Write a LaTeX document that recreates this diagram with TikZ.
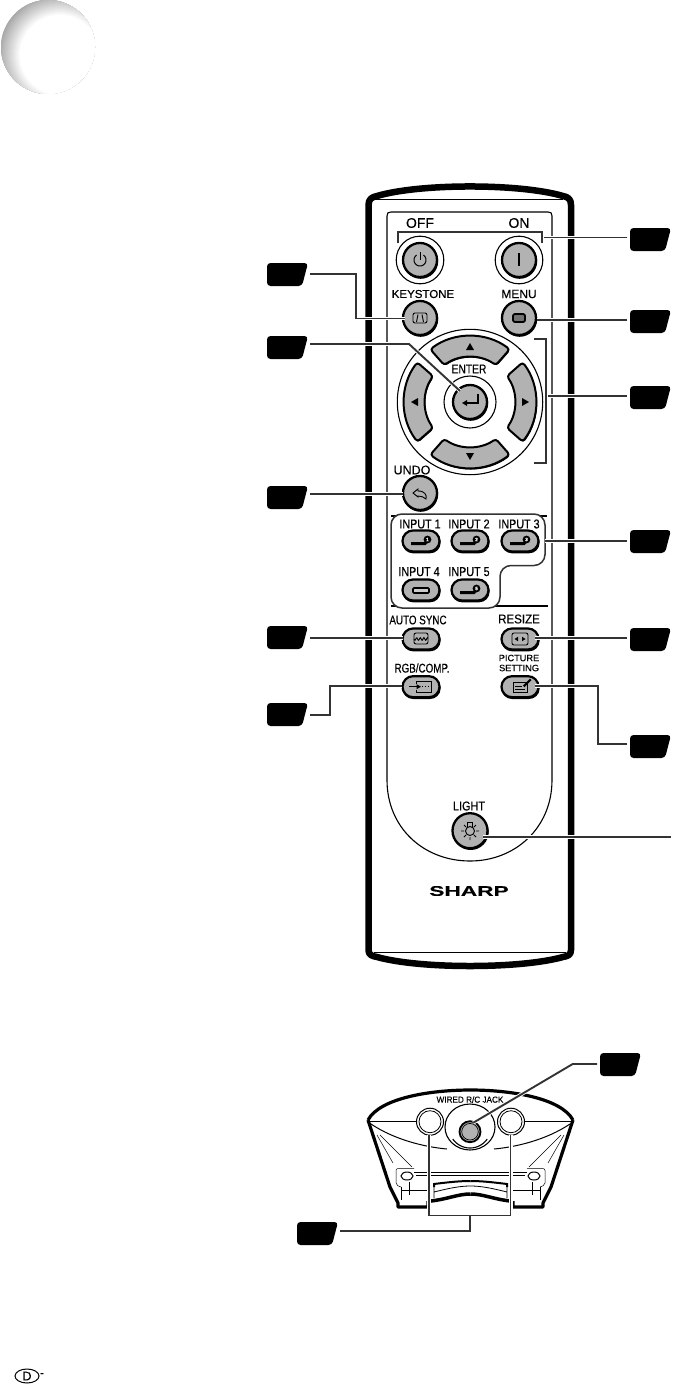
\documentclass[tikz,border=0pt]{standalone}
\usepackage{fontspec}
\usetikzlibrary{shapes.geometric}
\setmainfont{Liberation Sans}[FakeBold=0.25]
\definecolor{btn}{gray}{0.70}
\definecolor{lineg}{gray}{0.2}
\tikzset{
  tagnode/.style={rectangle,draw=none,minimum width=40pt,minimum height=1pt,inner sep=0pt,outer sep=3pt},
  conn/.style={draw=lineg,line width=1.9pt,preaction={draw=white,line width=3.6pt}},
  thin1/.style={draw=black,line width=0.8pt},
  thin2/.style={draw=black,line width=1.1pt},
  bigbtn/.style={circle,fill=btn,draw=black,line width=2.3pt,inner sep=0pt},
  pillbtn/.style={rectangle,rounded corners=10.5pt,fill=btn,draw=black,line width=2.2pt,minimum width=37pt,minimum height=21pt,inner sep=0pt},
  lbl/.style={inner sep=0pt,outer sep=0pt,text=black,align=center},
  ico/.style={draw=black,line width=0.9pt}
}
\newcommand{\tagat}[4]{% name, left x, top y, line y
  \fill[black,rounded corners=3.5pt] (#2,#3) -- (#2+41,#3) -- (#2+35,#3+23) -- (#2,#3+23) -- cycle;
  \node[tagnode] (#1) at (#2+20,#4) {};
}
\newcommand{\roundbtn}[4]{% name,x,y,r
  \fill[black] (#2+0.6,#3+1.2) circle (#4+0.6);
  \node[bigbtn,minimum size={2*#4}] (#1) at (#2,#3) {};
}
\newcommand{\pill}[3]{% name,x,y
  \fill[black,rounded corners=10.5pt] (#2-18.5,#3-9.5) rectangle (#2+19.6,#3+12.3);
  \node[pillbtn] (#1) at (#2,#3) {};
}
\newcommand{\lab}[6]{% name,x,y,size,xscale,text
  \node[lbl,font=\fontsize{#4}{#4}\selectfont] (#1) at (#2,#3) {\scalebox{#5}[1]{#6}};
}
\newcommand{\inputicon}[4]{% name,x,y,digit
  \draw[black,line width=3pt] (#2-10,#3+2.5) -- (#2+4,#3+2.5) -- (#2+6,#3);
  \fill[black] (#2+6.5,#3-1.5) circle (3.9);
  \node[lbl,text=white,font=\fontsize{4.8}{5}\selectfont\bfseries] (#1) at (#2+6.5,#3-1.5) {#4};
}
\begin{document}
\begin{tikzpicture}[x=1pt,y=-1pt]
\useasboundingbox (0,0) rectangle (672,1386);
\fill[white] (0,0) rectangle (672,1386);
% corner crescent
\begin{scope}
  \clip (48,47) circle (47);
  \foreach \r in {62,61,...,40}{
    \pgfmathsetmacro{\p}{(\r-40)*1.6}
    \fill[black!\p] (60,55) circle (\r);
  }
\end{scope}
% remote body
\draw[black,line width=6.5pt,line join=round] (368.5,950) -- (368.5,205) .. controls (368.5,199) and (372,197) .. (377,196) .. controls (420,183.3) and (520,183.3) .. (563,196) .. controls (568,197) and (571,199) .. (571,205) -- (571,950) .. controls (571,955) and (568,956) .. (563,957) .. controls (520,969) and (420,969) .. (377,957) .. controls (372,956) and (368.5,955) .. (368.5,950) -- cycle;
\draw[thin1] (375,199) -- (563,199);
\draw[thin1] (374,952) -- (566,952);
% inner panel
\draw[thin2] (387,780) -- (387,216) .. controls (387,213) and (388,212) .. (391,212) -- (548,212) .. controls (551,212) and (552,213) .. (552,216) -- (552,780) .. controls (552,828) and (515,861) .. (470,861) .. controls (424,861) and (387,828) .. (387,780) -- cycle;
% power
\foreach \px/\nm in {420/off,519/on}{
  \draw[thin1,line width=1.1pt] (\px,260) circle (23.8);
  \roundbtn{\nm}{\px}{260}{17}
}
\draw[ico,line width=1pt] plot[domain=-55:235,samples=30] ({420+6*cos(\x)},{260+6*sin(\x)});
\draw[ico,line width=1pt] (420,252) -- (420,260);
\draw[ico,line width=1.2pt] (519,253) -- (519,266);
\lab{tOff}{420}{223}{14}{1}{OFF}
\lab{tOn}{519}{223}{14}{1}{ON}
% keystone, menu
\roundbtn{kst}{420}{318}{17}
\roundbtn{menu}{519}{318}{17}
\draw[ico,rounded corners=2pt] (413,313) rectangle (427,323);
\draw[ico] (416.5,322) -- (418,314.5) (423.5,322) -- (422,314.5);
\draw[black,line width=1.8pt,rounded corners=2pt,fill=black!55] (513,314) rectangle (525,322);
\lab{tKey}{423}{294}{11.5}{1}{KEYSTONE}
\lab{tMenu}{519}{294}{12}{1}{MENU}
% cross
\draw[thin1,line width=1.1pt] (470,402) circle (72.7);
\foreach \a in {0,90,180,270}{
  \begin{scope}[shift={(470.7,403.1)},rotate=\a]
    \fill[black,rounded corners=3pt] (-39.7,-52.7) .. controls (-16.2,-70.4) and (16.2,-70.4) .. (39.7,-52.7) -- (25.8,-36.9) .. controls (10.3,-47.7) and (-10.3,-47.7) .. (-25.8,-36.9) -- cycle;
  \end{scope}
  \begin{scope}[shift={(470,402)},rotate=\a]
    \filldraw[fill=btn,draw=black,line width=2pt,rounded corners=3pt] (-39.7,-52.7) .. controls (-16.2,-70.4) and (16.2,-70.4) .. (39.7,-52.7) -- (25.8,-36.9) .. controls (10.3,-47.7) and (-10.3,-47.7) .. (-25.8,-36.9) -- cycle;
  \end{scope}
}
\fill[black] (470,343) -- (474,350) -- (466,350) -- cycle;
\fill[black] (470,460) -- (474,453) -- (466,453) -- cycle;
\fill[black] (411,402) -- (418,398) -- (418,406) -- cycle;
\fill[black] (529,402) -- (522,398) -- (522,406) -- cycle;
\draw[thin1,line width=1.1pt] (470,402) circle (26);
\roundbtn{enter}{470}{402}{17}
\draw[black,line width=1.3pt] (478,394) -- (478,403) -- (466,403);
\fill[black] (462,403) -- (467,400) -- (467,406) -- cycle;
\lab{tEnter}{469}{369}{12.8}{0.8}{ENTER}
% undo
\roundbtn{undo}{420}{493}{17}
\draw[ico] (413,493) -- (418,489) -- (418,491) .. controls (425,491) and (427,495) .. (426,499) .. controls (424,497) and (421,496) .. (418,496) -- (418,497) -- cycle;
\lab{tUndo}{412}{470}{12.5}{1}{UNDO}
% separators and input group
\draw[thin2] (391,516) -- (547,516);
\draw[thin2] (391,606) -- (548,606);
\draw[draw=lineg,fill=white,line width=1.5pt,rounded corners=11pt] (391,560) -- (391,514) -- (545,514) -- (545,565.5) -- (500,565.5) -- (500,608) -- (391,608) -- cycle;
\pill{in1}{421}{541}
\pill{in2}{470}{541}
\pill{in3}{520}{541}
\pill{in4}{421}{590}
\pill{in5}{470}{590}
\inputicon{d1}{421}{541}{1}
\inputicon{d2}{470}{541}{2}
\inputicon{d3}{520}{541}{3}
\inputicon{d5}{470}{590}{5}
\draw[black,line width=1.7pt,rounded corners=1pt,fill=black!20] (413,588) rectangle (429,593);
\lab{tI1}{420}{524}{12.8}{0.84}{INPUT 1}
\lab{tI2}{469}{524}{12.8}{0.84}{INPUT 2}
\lab{tI3}{519}{524}{12.8}{0.84}{INPUT 3}
\lab{tI4}{419}{571.7}{12.8}{0.84}{INPUT 4}
\lab{tI5}{469}{571.7}{12.8}{0.84}{INPUT 5}
% lower pills
\pill{auto}{421}{639}
\pill{resize}{520}{639}
\pill{rgb}{421}{686.7}
\pill{pict}{520}{686.7}
\lab{tAuto}{418}{620}{12.6}{0.78}{AUTO SYNC}
\lab{tRes}{519}{619}{12.8}{0.9}{RESIZE}
\lab{tRgb}{422}{668}{12.6}{0.78}{RGB/COMP.}
\lab{tPic}{519}{658}{9.2}{1}{PICTURE}
\lab{tSet}{519}{668}{9.2}{1}{SETTING}
\draw[ico,rounded corners=2pt] (414,633) rectangle (428,644);
\draw[ico] plot[domain=0:14,samples=25] ({414+\x},{639+1.3*sin(\x*100)});
\draw[ico,rounded corners=2pt] (512,633) rectangle (528,645);
\fill[black] (514.5,639) -- (518,636.7) -- (518,641.3) -- cycle;
\fill[black] (525.5,639) -- (522,636.7) -- (522,641.3) -- cycle;
\draw[ico] (409,686.7) -- (418,686.7);
\fill[black] (421,686.7) -- (416.5,684.2) -- (416.5,689.2) -- cycle;
\draw[ico] (416,681) -- (416,684) (416,689.5) -- (416,692.5) -- (431,692.5) -- (431,681) -- (416,681);
\draw[ico,dotted] (422,686.7) -- (430,686.7);
\draw[ico] (513,682) rectangle (527,692.5);
\draw[ico] (515,686) -- (522,686) (515,689) -- (525,689);
\fill[black] (523,685.5) -- (530,678.5) -- (531.5,680) -- (524.5,687) -- cycle;
% light
\roundbtn{light}{470}{830.7}{17.5}
\draw[ico] (470,831) circle (4.5);
\draw[ico] (467.5,826.5) -- (467.5,822.5) -- (472.5,822.5) -- (472.5,826.5);
\draw[ico] (461,831) -- (464,831) (476,831) -- (479,831) (470,837) -- (470,840) (464,825) -- (466,827) (476,825) -- (474,827) (464,837) -- (466,835) (476,837) -- (474,835);
\lab{tLight}{469}{806}{12.8}{0.85}{LIGHT}
\node[lbl,font=\fontsize{14}{14}\selectfont\bfseries] (tSharp) at (469,891) {\scalebox{1.62}[1]{SHARP}};
% jack view
\draw[thin2] (470,1127) ellipse (25 and 23);
\foreach \sh/\xs in {0/1,941/-1}{
  \begin{scope}[shift={(\sh,0)},xscale=\xs]
    \draw[thin1,line width=1pt] (368,1121) -- (416,1121);
    \draw[thin1,line width=1pt] (371,1124) .. controls (395,1140) and (425,1147) .. (447,1149);
    \draw[black,line width=3.2pt,line join=round] (368,1120) -- (390,1187) -- (398,1203) -- (398,1207) -- (428,1207) -- (428,1201);
    \fill[white] (403,1200) rectangle (426,1205);
    \draw[black,line width=.5pt] (377,1135) -- (393,1163) (380,1135) -- (412,1167);
    \draw[black,line width=.5pt,rounded corners=2pt] (414,1168.5) -- (396,1168.5) -- (396,1185) -- (401,1187);
    \draw[thin1] (414,1172.5) -- (470.5,1172.5);
    \draw[black,line width=.5pt] (416,1175) -- (470.5,1175);
    \draw[thin1,line width=1pt] (407,1176) ellipse (6 and 4);
    \draw[black,line width=.6pt] (401,1187) -- (401,1200) (401,1190) -- (430,1190) (409,1182) -- (409,1195);
    \draw[black,line width=2pt] (434,1187) -- (434,1184) .. controls (450,1182) and (460,1181) .. (470.5,1181);
    \draw[thin1] (434,1187) -- (434,1198) (434,1192) .. controls (450,1188) and (460,1186) .. (470.5,1186);
    \draw[black,line width=3.5pt] (431,1201) .. controls (448,1199) and (458,1194) .. (470.5,1194);
  \end{scope}
}
\draw[black,line width=3.2pt] (368,1120) .. controls (380,1098) and (430,1090) .. (470.5,1090) .. controls (511,1090) and (561,1098) .. (573,1120);
\foreach \rx/\nm in {430/rl,511/rr}{
  \node[circle,fill=white,draw=black,line width=1pt,minimum size=27pt,inner sep=0pt] (\nm) at (\rx,1121.7) {};
  \draw[thin1] (\rx,1121.7) circle (11);
}
\draw[thin2] plot[domain=35:145,samples=20] ({470+21*cos(\x)},{1127+21*sin(\x)});
\node[circle,fill=btn,draw=black,line width=1.8pt,minimum size=21pt,inner sep=0pt] (jack) at (470,1131.7) {};
\draw[black,line width=.7pt] (470,1131.7) circle (8.3);
\lab{tWired}{470}{1099.5}{8.8}{0.93}{WIRED R/C JACK}
% footer mark
\node[ellipse,draw=black,line width=1pt,minimum width=24pt,minimum height=14pt,inner sep=0pt,font=\fontsize{12.5}{12.5}\selectfont] (oval) at (27,1376) {D};
\node[lbl,font=\fontsize{12}{12}\selectfont] (dash) at (42,1375) {-};
% tags
\tagat{tgP}{630}{228}{237.5}
\tagat{tgM}{630}{310}{320}
\tagat{tgA}{630}{386}{396}
\tagat{tgI}{630}{530}{540.7}
\tagat{tgR}{630}{628}{637.7}
\tagat{tgS}{630}{735}{744}
\tagat{tgK}{267}{263}{274}
\tagat{tgE}{267}{336}{344}
\tagat{tgU}{267}{486}{493.7}
\tagat{tgY}{267}{626}{637.7}
\tagat{tgC}{267}{703}{715}
\tagat{tgJ}{600}{1053}{1064}
\tagat{tgB}{297}{1222}{1230.7}
% connector ends
\coordinate (eKst) at (405,318.5);
\coordinate (eEnter) at (460,391);
\coordinate (eUndo) at (403,493.7);
\coordinate (eMenu) at (537,320);
\coordinate (eAuto) at (403,637.7);
\coordinate (eRgb) at (402,685.7);
\coordinate (eRes) at (535,637.7);
\coordinate (ePic) at (535,686);
\coordinate (eLight) at (483,837);
\coordinate (eFree) at (671,837);
\coordinate (eJack) at (473.3,1122.7);
\coordinate (eBrL) at (429,1135);
\coordinate (eBrR) at (510.7,1135);
% connectors
\draw[conn] (tgK.east) -| (356,300) |- (eKst);
\draw[conn] (tgE.east) -- (409,344) -- (eEnter);
\draw[conn] (tgU.east) -- (eUndo);
\draw[conn] (tgY.east) -- (eAuto);
\draw[conn] (tgC.east) -| (330,700) |- (eRgb);
\draw[conn] (tgP.west) -- (542,237.5);
\draw[conn,line width=1.5pt] (398,243) -- (398,232) -- (542,232) -- (542,243);
\draw[conn] (tgM.west) -- (eMenu);
\draw[conn] (tgA.west) -- (546,396);
\draw[conn,line width=1.5pt] (534,339) -- (546,339) -- (546,463) -- (534,463);
\draw[conn] (tgI.west) -- (545,540.7);
\draw[conn] (tgR.west) -- (eRes);
\draw[conn] (tgS.west) -| (598,700) |- (ePic);
\draw[conn] (eLight) -- (eFree);
\draw[conn] (tgJ.west) -- (572.7,1064) -- (eJack);
\draw[conn,line width=1.5pt] (eBrL) -- (429,1215.7) -- (510.7,1215.7) -- (eBrR);
\draw[conn] (tgB.east) -| (470,1215.7);
\end{tikzpicture}
\end{document}
